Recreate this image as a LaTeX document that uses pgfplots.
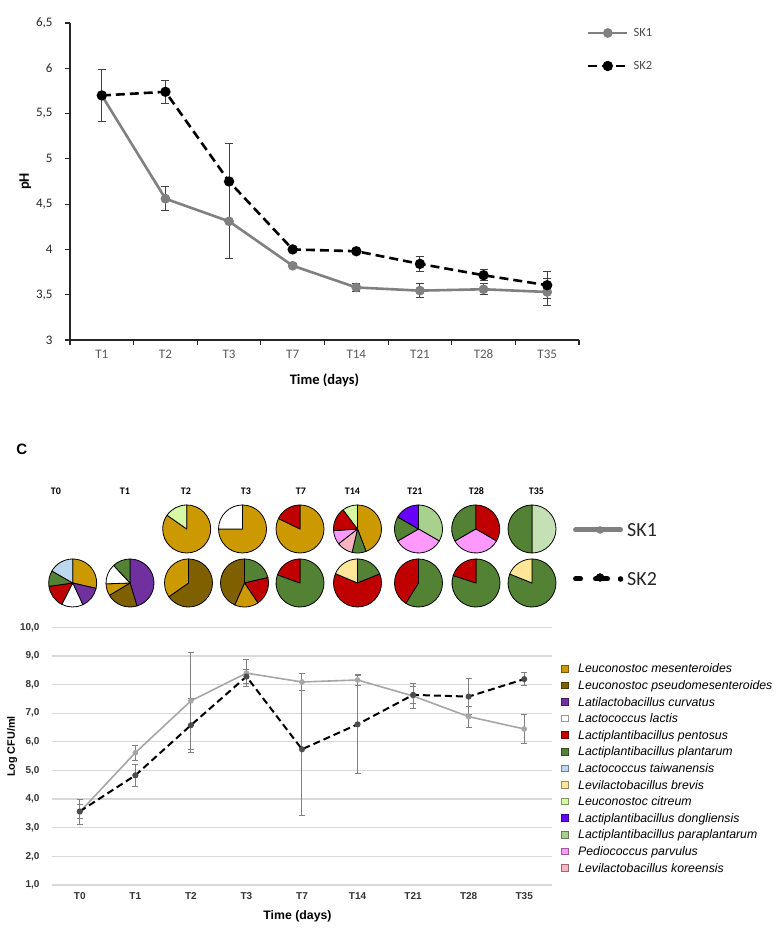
\documentclass[border=0pt]{standalone}
\usepackage{pgfplots}
\pgfplotsset{compat=1.18}
\usepackage{fontspec}
\setmainfont{Carlito}
\newfontfamily\arial{Liberation Sans}
\definecolor{cMes}{HTML}{CC9900}
\definecolor{cPse}{HTML}{7F6000}
\definecolor{cCur}{HTML}{7030A0}
\definecolor{cLac}{HTML}{FFFFFF}
\definecolor{cPen}{HTML}{C00000}
\definecolor{cPla}{HTML}{548235}
\definecolor{cTai}{HTML}{BDD7EE}
\definecolor{cBre}{HTML}{FFE699}
\definecolor{cCit}{HTML}{D6F9A3}
\definecolor{cDon}{HTML}{6600FF}
\definecolor{cPar}{HTML}{A9D18E}
\definecolor{cParb}{HTML}{C5E0B4}
\definecolor{cPrv}{HTML}{FF99FF}
\definecolor{cKor}{HTML}{F8B4C0}
% pie wedge: cx, cy (pixels from top), start, end (degrees clockwise from 12 o'clock), colour
\newcommand\pw[5]{\filldraw[fill=#5,draw=black,line width=0.8pt,line join=round] (axis cs:#1,{931-#2}) -- ++({90-#3}:24pt) arc[start angle={90-#3},end angle={90-#4},radius=24pt] -- cycle;}
\newcommand\lsq[2]{\addlegendimage{legend image code/.code={\filldraw[fill=#1,draw=#1!60!black,line width=0.6pt] (0pt,-3.3pt) rectangle (6.6pt,3.3pt);}}\addlegendentry{#2}}
\newcommand\plab[2]{\node[font=\bfseries\fontsize{10}{10}\selectfont, anchor=base, inner sep=0pt] at (axis cs:#1,{931-494.2}) {#2};}
\begin{document}
\begin{tikzpicture}[x=1pt,y=1pt]
\path[use as bounding box] (0,0) rectangle (781,931);
% ---------------- pies (pixel axis) ----------------
\begin{axis}[at={(0pt,0pt)}, anchor=south west, scale only axis, width=781pt, height=931pt,
  xmin=0, xmax=781, ymin=0, ymax=931, hide axis, clip=false,
  legend cell align=left,
  legend style={at={(0.7337,0.4404)}, anchor=north west, draw=none, fill=none, inner sep=0pt, outer sep=0pt,
    font=\fontsize{20}{20}\selectfont, row sep=31pt,
    nodes={inner sep=0pt, text height=15.45pt, text depth=2.55pt, text=black!85},
    /tikz/every odd column/.append style={column sep=4pt}}]
\node[font=\arial\bfseries\fontsize{15}{15}\selectfont] at (axis cs:21.7,{931-449}) {C};
\plab{56}{T0}\plab{125}{T1}\plab{186}{T2}\plab{246}{T3}\plab{301}{T7}
\plab{352.5}{T14}\plab{415}{T21}\plab{476.5}{T28}\plab{536.5}{T35}
% SK1 row
\pw{186.7}{529}{0}{305}{cMes}\pw{186.7}{529}{305}{360}{cCit}
\pw{242.5}{529}{0}{270}{cMes}\pw{242.5}{529}{270}{360}{cLac}
\pw{300}{529}{0}{296}{cMes}\pw{300}{529}{296}{360}{cPen}
\pw{357.5}{529}{0}{159}{cMes}\pw{357.5}{529}{159}{193}{cPla}\pw{357.5}{529}{193}{232}{cKor}
\pw{357.5}{529}{232}{266}{cPrv}\pw{357.5}{529}{266}{323}{cPen}\pw{357.5}{529}{323}{360}{cCit}
\pw{418.5}{529}{0}{120}{cPar}\pw{418.5}{529}{120}{240}{cPrv}\pw{418.5}{529}{240}{300}{cPla}\pw{418.5}{529}{300}{360}{cDon}
\pw{475.7}{529}{0}{120}{cPen}\pw{475.7}{529}{120}{240}{cPrv}\pw{475.7}{529}{240}{360}{cPla}
\pw{532}{529}{0}{180}{cParb}\pw{532}{529}{180}{360}{cPla}
% SK2 row
\pw{72.7}{583}{0}{103}{cMes}\pw{72.7}{583}{103}{155}{cCur}\pw{72.7}{583}{155}{207}{cLac}
\pw{72.7}{583}{207}{262}{cPen}\pw{72.7}{583}{262}{300}{cPla}\pw{72.7}{583}{300}{360}{cTai}
\pw{130}{583}{0}{163}{cCur}\pw{130}{583}{163}{239}{cPse}\pw{130}{583}{239}{268}{cMes}
\pw{130}{583}{268}{317}{cLac}\pw{130}{583}{317}{360}{cPla}
\pw{188.5}{583}{0}{235}{cPse}\pw{188.5}{583}{235}{360}{cMes}
\pw{244.5}{583}{0}{77}{cPla}\pw{244.5}{583}{77}{146}{cPen}\pw{244.5}{583}{146}{204}{cMes}\pw{244.5}{583}{204}{360}{cPse}
\pw{300}{583}{0}{290}{cPla}\pw{300}{583}{290}{360}{cPen}
\pw{357.5}{583}{0}{68}{cPla}\pw{357.5}{583}{68}{293}{cPen}\pw{357.5}{583}{293}{360}{cBre}
\pw{418.5}{583}{0}{212}{cPla}\pw{418.5}{583}{212}{360}{cPen}
\pw{476}{583}{0}{288}{cPla}\pw{476}{583}{288}{360}{cPen}
\pw{532}{583}{0}{292}{cPla}\pw{532}{583}{292}{360}{cBre}
\addlegendimage{legend image code/.code={\draw[black!50,line width=5pt,line cap=round] (2.5pt,0pt) -- (47.5pt,0pt); \fill[black!50] (27pt,0pt) circle (3.5pt);}}
\addlegendentry{SK1}
\addlegendimage{legend image code/.code={\draw[black,line width=5pt,line cap=round] (2.5pt,0pt) -- (7.5pt,0pt); \draw[black,line width=5pt,line cap=round] (22.5pt,0pt) -- (34.5pt,0pt); \fill[black] (27pt,1.5pt) circle (4pt); \fill[black] (47.5pt,0pt) circle (2.5pt);}}
\addlegendentry{SK2}
\end{axis}
% ---------------- pH chart ----------------
\begin{axis}[at={(70pt,591pt)}, anchor=south west, scale only axis, width=509pt, height=317pt,
  xmin=0.5, xmax=8.5, ymin=3, ymax=6.5, clip=false,
  axis lines=left, axis line style={-, draw=black!85, line width=1.2pt},
  xtick={1,...,8}, xticklabels={T1,T2,T3,T7,T14,T21,T28,T35},
  minor xtick={0.5,1.5,...,8.5},
  major x tick style={draw=none},
  minor x tick style={draw=black!85, line width=1.2pt},
  major y tick style={draw=black!85, line width=1.2pt},
  tick align=outside, major tick length=5pt, minor tick length=5pt,
  ytick={3,3.5,...,6.5}, yticklabels={3,{3,5},4,{4,5},5,{5,5},6,{6,5}},
  /pgf/number format/assume math mode=true,
  ticklabel style={font=\fontsize{13}{13}\selectfont},
  xticklabel style={text=black!65, anchor=north, yshift=-5pt, text height=8.5pt, text depth=0pt, inner sep=0pt},
  yticklabel style={text=black!85, xshift=-9pt},
  xlabel={Time (days)}, ylabel={pH},
  label style={font=\bfseries\fontsize{14.5}{14.5}\selectfont},
  xlabel style={at={(axis description cs:0.5,-0.126)}, anchor=center},
  ylabel style={at={(axis description cs:-0.088,0.5)}, anchor=center},
  legend cell align=left,
  legend image code/.code={\draw[mark repeat=2,mark phase=2,#1] plot coordinates {(0pt,0pt) (19.5pt,0pt) (39pt,0pt)};},
  legend style={at={(1.0157,0.9874)}, anchor=north west, draw=none, fill=none, inner sep=0pt, outer sep=0pt,
    font=\fontsize{12.5}{12.5}\selectfont, row sep=21pt,
    nodes={inner sep=0pt, text height=9.85pt, text depth=2.15pt, text=black!70},
    /tikz/every odd column/.append style={column sep=5pt}},
  error bars/error bar style={solid, line width=1pt, black!75},
  error bars/error mark options={solid, rotate=90, mark size=4pt, line width=1pt, black!75}]
\addplot[color=black!50, line width=2.6pt, mark=*, mark size=3.5pt, mark options={solid, fill=black!50},
  error bars/.cd, y dir=both, y explicit] coordinates {
  (1,5.70) +- (0,0.29) (2,4.56) +- (0,0.13) (3,4.31) +- (0,0.41) (4,3.82) +- (0,0.02)
  (5,3.58) +- (0,0.04) (6,3.545) +- (0,0.08) (7,3.56) +- (0,0.06) (8,3.53) +- (0,0.15)};
\addlegendentry{SK1}
\addplot[color=black, line width=2.6pt, dash pattern=on 9pt off 5pt, mark=*, mark size=3.8pt, mark options={solid, fill=black},
  error bars/.cd, y dir=both, y explicit] coordinates {
  (1,5.70) +- (0,0.02) (2,5.74) +- (0,0.13) (3,4.75) +- (0,0.42) (4,4.00) +- (0,0.02)
  (5,3.98) +- (0,0.03) (6,3.84) +- (0,0.08) (7,3.715) +- (0,0.06) (8,3.605) +- (0,0.15)};
\addlegendentry{SK2}
\end{axis}
% ---------------- Log CFU chart ----------------
\begin{axis}[at={(52pt,46pt)}, anchor=south west, scale only axis, width=500pt, height=257.7pt,
  xmin=-0.5, xmax=8.5, ymin=1, ymax=10, clip=false,
  axis line style={draw=none}, tick style={draw=none},
  ymajorgrids, grid style={draw=black!15, line width=1.2pt},
  xtick={0,...,8}, xticklabels={T0,T1,T2,T3,T7,T14,T21,T28,T35},
  ytick={1,...,10}, yticklabels={{1,0},{2,0},{3,0},{4,0},{5,0},{6,0},{7,0},{8,0},{9,0},{10,0}},
  /pgf/number format/assume math mode=true,
  ticklabel style={font=\arial\bfseries\fontsize{10}{10}\selectfont, text=black!80},
  xticklabel style={anchor=north, yshift=-7pt, text height=7.5pt, text depth=0pt, inner sep=0pt},
  yticklabel style={xshift=-9pt},
  xlabel={Time (days)}, ylabel={Log CFU/ml},
  label style={font=\arial\bfseries\fontsize{12.3}{12.3}\selectfont},
  xlabel style={at={(axis description cs:0.491,-0.123)}, anchor=center},
  ylabel style={at={(axis description cs:-0.08,0.537)}, anchor=center, font=\arial\bfseries\fontsize{10.8}{10.8}\selectfont},
  legend cell align=left,
  legend style={at={(1.018,0.8613)}, anchor=north west, draw=none, fill=none, inner sep=0pt, outer sep=0pt,
    font=\arial\itshape\fontsize{12.3}{12.3}\selectfont, row sep=5.6pt,
    nodes={inner sep=0pt, text height=9.8pt, text depth=1.2pt, text=black},
    /tikz/every odd column/.append style={column sep=10pt}},
  error bars/error bar style={solid, line width=1pt, black!50},
  error bars/error mark options={solid, rotate=90, mark size=3pt, line width=1pt, black!50}]
\addplot[forget plot, color=black!35, line width=1.6pt, mark=*, mark size=2pt, mark options={solid, fill=black!35},
  error bars/.cd, y dir=both, y explicit] coordinates {
  (0,3.55) +- (0,0.45) (1,5.62) +- (0,0.26) (2,7.43) +- (0,1.70) (3,8.40) +- (0,0.47) (4,8.09) +- (0,0.30)
  (5,8.16) +- (0,0.18) (6,7.60) +- (0,0.45) (7,6.88) +- (0,0.37) (8,6.45) +- (0,0.52)};
\addplot[forget plot, color=black, line width=2pt, dash pattern=on 7pt off 4pt, mark=*, mark size=2pt, mark options={solid, fill=black!70, draw=black!70},
  error bars/.cd, y dir=both, y explicit] coordinates {
  (0,3.57) +- (0,0.25) (1,4.83) +- (0,0.38) (2,6.58) +- (0,0.95) (3,8.28) +- (0,0.25) (4,5.74) +- (0,2.32)
  (5,6.61) +- (0,1.70) (6,7.64) +- (0,0.30) (7,7.58) +- (0,0.64) (8,8.19) +- (0,0.22)};
\lsq{cMes}{Leuconostoc mesenteroides}
\lsq{cPse}{Leuconostoc pseudomesenteroides}
\lsq{cCur}{Latilactobacillus curvatus}
\lsq{cLac}{Lactococcus lactis}
\lsq{cPen}{Lactiplantibacillus pentosus}
\lsq{cPla}{Lactiplantibacillus plantarum}
\lsq{cTai}{Lactococcus taiwanensis}
\lsq{cBre}{Levilactobacillus brevis}
\lsq{cCit}{Leuconostoc citreum}
\lsq{cDon}{Lactiplantibacillus dongliensis}
\lsq{cPar}{Lactiplantibacillus paraplantarum}
\lsq{cPrv}{Pediococcus parvulus}
\lsq{cKor}{Levilactobacillus koreensis}
\end{axis}
\end{tikzpicture}
\end{document}
